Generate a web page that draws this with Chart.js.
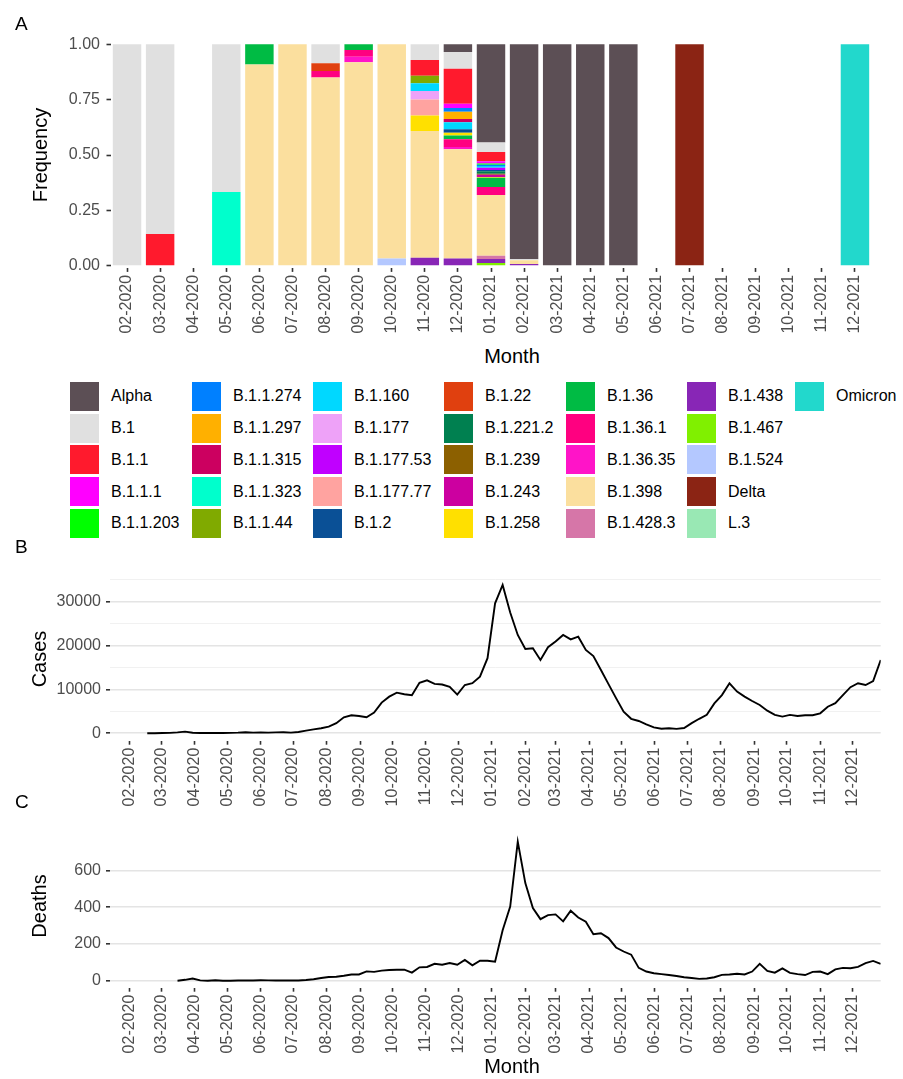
<!DOCTYPE html>
<html>
<head>
<meta charset="utf-8">
<script src="https://cdn.jsdelivr.net/npm/chart.js@4.4.1/dist/chart.umd.min.js"></script>
<style>
  body { margin: 0; background: #fff; font-family: "Liberation Sans", Arial, sans-serif; }
  #page { position: relative; width: 903px; height: 1079px; overflow: hidden; }
  .box { position: absolute; left: 0; }
  .tag { position: absolute; font-size: 19px; line-height: 1; color: #000; }
  .ttl { position: absolute; font-size: 20px; line-height: 1; color: #000; white-space: nowrap; transform: translate(-50%, -50%); }
  .ttl.rot { transform: translate(-50%, -50%) rotate(-90deg); }
  #legend { position: absolute; left: 70px; top: 380.6px; display: grid; grid-auto-flow: column;
            grid-template-rows: repeat(5, 31.7px); grid-template-columns: 122px 121px 131px 122px 121px 108px auto; }
  .item { display: flex; align-items: center; font-size: 16px; color: #000; white-space: nowrap; }
  .key { width: 29px; height: 29px; margin-right: 12px; flex: none; }
</style>
</head>
<body>
<div id="page">
  <div class="box" style="top:0;width:903px;height:340px"><canvas id="chartA" width="903" height="340"></canvas></div>
  <div class="box" style="top:560px;width:903px;height:260px"><canvas id="chartB" width="903" height="260"></canvas></div>
  <div class="box" style="top:820px;width:903px;height:259px"><canvas id="chartC" width="903" height="259"></canvas></div>

  <div class="tag" style="left:15px;top:14px">A</div>
  <div class="tag" style="left:15px;top:537px">B</div>
  <div class="tag" style="left:15px;top:792px">C</div>

  <div class="ttl rot" style="left:40px;top:155px">Frequency</div>
  <div class="ttl" style="left:512px;top:356px">Month</div>
  <div class="ttl rot" style="left:39px;top:659px">Cases</div>
  <div class="ttl rot" style="left:39px;top:906px">Deaths</div>
  <div class="ttl" style="left:512px;top:1066px">Month</div>

  <div id="legend"></div>
</div>

<script>
// months shown on the x axes
const months = ['02-2020', '03-2020', '04-2020', '05-2020', '06-2020', '07-2020', '08-2020', '09-2020',
                '10-2020', '11-2020', '12-2020', '01-2021', '02-2021', '03-2021', '04-2021', '05-2021',
                '06-2021', '07-2021', '08-2021', '09-2021', '10-2021', '11-2021', '12-2021'];

const lineages = ['Alpha', 'B.1', 'B.1.1', 'B.1.1.1', 'B.1.1.203', 'B.1.1.274', 'B.1.1.297', 'B.1.1.315',
                  'B.1.1.323', 'B.1.1.44', 'B.1.160', 'B.1.177', 'B.1.177.53', 'B.1.177.77', 'B.1.2',
                  'B.1.22', 'B.1.221.2', 'B.1.239', 'B.1.243', 'B.1.258', 'B.1.36', 'B.1.36.1',
                  'B.1.36.35', 'B.1.398', 'B.1.428.3', 'B.1.438', 'B.1.467', 'B.1.524', 'Delta', 'L.3', 'Omicron'];

const lineageColors = ['#5C4F55', '#E0E0E0', '#FF1A2D', '#FF00FF', '#00FF00', '#0080FF', '#FFB000', '#CC0060',
                       '#00FFCC', '#80AA00', '#00D8FF', '#EEA2F8', '#C000FF', '#FFA3A0', '#0A5096',
                       '#E0400F', '#008050', '#8C6000', '#CC00A0', '#FFE000', '#00BB44', '#FF0080',
                       '#FF14C8', '#FBDF9E', '#D676A8', '#8826B6', '#80F000', '#B4C8FF', '#8B2414', '#99E8B4', '#22D8CC'];

// frequency per lineage (rows, same order as lineages) and month (columns)
const freqRows = [
  /* Alpha      */ [0, 0, 0, 0, 0, 0, 0, 0, 0, 0, 0.035, 0.444, 0.971, 1, 1, 1, 0, 0, 0, 0, 0, 0, 0],
  /* B.1        */ [1, 0.857, 0, 0.667, 0, 0, 0.085, 0, 0, 0.071, 0.075, 0.042, 0.004, 0, 0, 0, 0, 0, 0, 0, 0, 0, 0],
  /* B.1.1      */ [0, 0.143, 0, 0, 0, 0, 0, 0, 0, 0.071, 0.158, 0.042, 0, 0, 0, 0, 0, 0, 0, 0, 0, 0, 0],
  /* B.1.1.1    */ [0, 0, 0, 0, 0, 0, 0, 0, 0, 0, 0.02, 0.01, 0, 0, 0, 0, 0, 0, 0, 0, 0, 0, 0],
  /* B.1.1.203  */ [0, 0, 0, 0, 0, 0, 0, 0, 0, 0, 0, 0.006, 0, 0, 0, 0, 0, 0, 0, 0, 0, 0, 0],
  /* B.1.1.274  */ [0, 0, 0, 0, 0, 0, 0, 0, 0, 0, 0.017, 0.006, 0, 0, 0, 0, 0, 0, 0, 0, 0, 0, 0],
  /* B.1.1.297  */ [0, 0, 0, 0, 0, 0, 0, 0, 0, 0, 0.032, 0, 0, 0, 0, 0, 0, 0, 0, 0, 0, 0, 0],
  /* B.1.1.315  */ [0, 0, 0, 0, 0, 0, 0, 0, 0, 0, 0.015, 0, 0, 0, 0, 0, 0, 0, 0, 0, 0, 0, 0],
  /* B.1.1.323  */ [0, 0, 0, 0.333, 0, 0, 0, 0, 0, 0, 0, 0, 0, 0, 0, 0, 0, 0, 0, 0, 0, 0, 0],
  /* B.1.1.44   */ [0, 0, 0, 0, 0, 0, 0, 0, 0, 0.034, 0, 0, 0, 0, 0, 0, 0, 0, 0, 0, 0, 0, 0],
  /* B.1.160    */ [0, 0, 0, 0, 0, 0, 0, 0, 0, 0.035, 0.032, 0.008, 0, 0, 0, 0, 0, 0, 0, 0, 0, 0, 0],
  /* B.1.177    */ [0, 0, 0, 0, 0, 0, 0, 0, 0, 0.038, 0, 0, 0, 0, 0, 0, 0, 0, 0, 0, 0, 0, 0],
  /* B.1.177.53 */ [0, 0, 0, 0, 0, 0, 0, 0, 0, 0, 0, 0.01, 0, 0, 0, 0, 0, 0, 0, 0, 0, 0, 0],
  /* B.1.177.77 */ [0, 0, 0, 0, 0, 0, 0, 0, 0, 0.073, 0, 0, 0, 0, 0, 0, 0, 0, 0, 0, 0, 0, 0],
  /* B.1.2      */ [0, 0, 0, 0, 0, 0, 0, 0, 0, 0, 0.015, 0.005, 0, 0, 0, 0, 0, 0, 0, 0, 0, 0, 0],
  /* B.1.22     */ [0, 0, 0, 0, 0, 0, 0.035, 0, 0, 0, 0, 0, 0, 0, 0, 0, 0, 0, 0, 0, 0, 0, 0],
  /* B.1.221.2  */ [0, 0, 0, 0, 0, 0, 0, 0, 0, 0, 0, 0.012, 0, 0, 0, 0, 0, 0, 0, 0, 0, 0, 0],
  /* B.1.239    */ [0, 0, 0, 0, 0, 0, 0, 0, 0, 0, 0, 0.004, 0, 0, 0, 0, 0, 0, 0, 0, 0, 0, 0],
  /* B.1.243    */ [0, 0, 0, 0, 0, 0, 0, 0, 0, 0, 0, 0.01, 0, 0, 0, 0, 0, 0, 0, 0, 0, 0, 0],
  /* B.1.258    */ [0, 0, 0, 0, 0, 0, 0, 0, 0, 0.07, 0.013, 0.004, 0, 0, 0, 0, 0, 0, 0, 0, 0, 0, 0],
  /* B.1.36     */ [0, 0, 0, 0, 0.091, 0, 0, 0.026, 0, 0, 0.017, 0.042, 0, 0, 0, 0, 0, 0, 0, 0, 0, 0, 0],
  /* B.1.36.1   */ [0, 0, 0, 0, 0, 0, 0.03, 0.03, 0, 0, 0.035, 0.036, 0, 0, 0, 0, 0, 0, 0, 0, 0, 0, 0],
  /* B.1.36.35  */ [0, 0, 0, 0, 0, 0, 0, 0.025, 0, 0, 0.01, 0, 0, 0, 0, 0, 0, 0, 0, 0, 0, 0, 0],
  /* B.1.398    */ [0, 0, 0, 0, 0.909, 1, 0.85, 0.919, 0.967, 0.572, 0.494, 0.274, 0.017, 0, 0, 0, 0, 0, 0, 0, 0, 0, 0],
  /* B.1.428.3  */ [0, 0, 0, 0, 0, 0, 0, 0, 0, 0, 0, 0.015, 0, 0, 0, 0, 0, 0, 0, 0, 0, 0, 0],
  /* B.1.438    */ [0, 0, 0, 0, 0, 0, 0, 0, 0, 0.036, 0.032, 0.018, 0.008, 0, 0, 0, 0, 0, 0, 0, 0, 0, 0],
  /* B.1.467    */ [0, 0, 0, 0, 0, 0, 0, 0, 0, 0, 0, 0.012, 0, 0, 0, 0, 0, 0, 0, 0, 0, 0, 0],
  /* B.1.524    */ [0, 0, 0, 0, 0, 0, 0, 0, 0.033, 0, 0, 0, 0, 0, 0, 0, 0, 0, 0, 0, 0, 0, 0],
  /* Delta      */ [0, 0, 0, 0, 0, 0, 0, 0, 0, 0, 0, 0, 0, 0, 0, 0, 0, 1, 0, 0, 0, 0, 0],
  /* L.3        */ [0, 0, 0, 0, 0, 0, 0, 0, 0, 0, 0, 0, 0, 0, 0, 0, 0, 0, 0, 0, 0, 0, 0],
  /* Omicron    */ [0, 0, 0, 0, 0, 0, 0, 0, 0, 0, 0, 0, 0, 0, 0, 0, 0, 0, 0, 0, 0, 0, 1]
];

const freqTicks = [0, 0.25, 0.5, 0.75, 1];

// weekly series, first week starting 2020-02-17
const firstWeek = Date.UTC(2020, 1, 17);
const cases = [0, 20, 50, 100, 200, 380, 120, 50, 50, 60, 80, 100, 150, 250, 150, 200, 150, 200, 250, 150,
               300, 600, 900, 1150, 1500, 2300, 3650, 4100, 3950, 3650, 4700, 7000, 8350, 9250, 8900, 8650,
               11500, 12050, 11250, 11100, 10600, 8800, 11000, 11400, 12900, 17100, 29600, 33800, 27500, 22400,
               19200, 19350, 16700, 19600, 20900, 22400, 21400, 22000, 19000, 17600, 14400, 11200, 8000, 4900,
               3300, 2800, 2050, 1350, 1050, 1150, 1000, 1200, 2300, 3300, 4200, 6800, 8700, 11400, 9500, 8350,
               7350, 6450, 5150, 4200, 3800, 4200, 3950, 4100, 4100, 4550, 6050, 6850, 8700, 10500, 11400, 11000,
               11900, 16700];
const deaths = [null, null, null, null, 0, 5, 12, 2, 0, 3, 0, 0, 1, 1, 1, 3, 2, 1, 1, 2,
                1, 4, 8, 15, 20, 22, 27, 34, 34, 51, 48, 55, 58, 60, 60, 44, 73, 75, 92, 87,
                96, 87, 113, 84, 109, 109, 103, 275, 403, 757, 531, 395, 335, 357, 361, 323, 381, 344, 321, 253,
                258, 232, 181, 159, 142, 70, 50, 41, 36, 31, 26, 19, 15, 10, 12, 19, 32, 34, 38, 34,
                50, 92, 53, 44, 67, 43, 36, 31, 48, 50, 36, 62, 70, 68, 75, 96, 108, 92];

const casesTicks = [0, 5000, 10000, 15000, 20000, 25000, 30000, 35000];
const deathsTicks = [0, 100, 200, 300, 400, 500, 600, 700];

// ---------- helpers ----------
const DAY = 86400000;
const origin = Date.UTC(2020, 1, 1);
const monthDays = months.map(m => {
  const [mm, yy] = m.split('-').map(Number);
  return (Date.UTC(yy, mm - 1, 1) - origin) / DAY;
});
const toPoints = arr => arr.map((v, i) => ({ x: (firstWeek - origin) / DAY + 7 * i, y: v }));

const FONT = { family: '"Liberation Sans", Arial, sans-serif', size: 16 };
const TICK_COLOR = '#4D4D4D';
const MARK_COLOR = '#333333';

// ---------- panel A: stacked bars ----------
const datasetsA = lineages.map((name, k) => ({
  label: name,
  data: freqRows[k],
  backgroundColor: lineageColors[k],
  borderWidth: 0,
  barPercentage: 0.86,
  categoryPercentage: 1
})).reverse(); // first lineage ends on top of the stack

new Chart(document.getElementById('chartA'), {
  type: 'bar',
  data: { labels: months, datasets: datasetsA },
  options: {
    responsive: false,
    animation: false,
    layout: { padding: { top: 42.1, right: 31.5, left: 0, bottom: 0 } },
    plugins: { legend: { display: false }, tooltip: { enabled: false } },
    scales: {
      x: {
        stacked: true,
        offset: true,
        afterFit: s => { s.height = 72.1; },
        border: { display: false },
        grid: { offset: false, drawOnChartArea: false, tickLength: 4, tickWidth: 1.6, tickColor: MARK_COLOR },
        ticks: { autoSkip: false, maxRotation: 90, minRotation: 90, padding: 3, color: TICK_COLOR, font: FONT }
      },
      y: {
        stacked: true,
        min: -0.01,
        max: 1.01,
        afterBuildTicks: s => { s.ticks = freqTicks.map(v => ({ value: v })); },
        afterFit: s => { s.width = 110.5; },
        border: { display: false },
        grid: { drawOnChartArea: false, tickLength: 4, tickWidth: 1.6, tickColor: MARK_COLOR },
        ticks: { padding: 6.5, color: TICK_COLOR, font: FONT, callback: v => Number(v).toFixed(2) }
      }
    }
  }
});

// ---------- panels B and C: weekly lines ----------
function lineChart(id, values, yTicks, majorStep, yMin, yMax, padTop, xHeight) {
  return new Chart(document.getElementById(id), {
    type: 'line',
    data: {
      datasets: [{
        data: toPoints(values),
        borderColor: '#000000',
        borderWidth: 1.9,
        pointRadius: 0,
        tension: 0,
        spanGaps: false
      }]
    },
    options: {
      responsive: false,
      animation: false,
      layout: { padding: { top: padTop, right: 22.3, left: 0, bottom: 0 } },
      plugins: { legend: { display: false }, tooltip: { enabled: false } },
      scales: {
        x: {
          type: 'linear',
          min: -18.5,
          max: 695,
          afterBuildTicks: s => { s.ticks = monthDays.map(v => ({ value: v })); },
          afterFit: s => { s.height = xHeight; },
          border: { display: false },
          grid: { drawOnChartArea: false, tickLength: 4, tickWidth: 1.6, tickColor: MARK_COLOR },
          ticks: { autoSkip: false, maxRotation: 90, minRotation: 90, padding: 3, color: TICK_COLOR, font: FONT,
                   callback: (v, i) => months[i] }
        },
        y: {
          type: 'linear',
          min: yMin,
          max: yMax,
          afterBuildTicks: s => { s.ticks = yTicks.map(v => ({ value: v })); },
          afterFit: s => { s.width = 110; },
          border: { display: false },
          grid: {
            color: c => (c.tick && c.tick.value % majorStep === 0) ? '#E4E4E4' : '#F1F1F1',
            lineWidth: c => (c.tick && c.tick.value % majorStep === 0) ? 1.6 : 1,
            tickLength: 4,
            tickWidth: 1.6,
            tickColor: c => (c.tick && c.tick.value % majorStep === 0) ? MARK_COLOR : 'rgba(0,0,0,0)'
          },
          ticks: { padding: 5, color: TICK_COLOR, font: FONT,
                   callback: v => (v % majorStep === 0 ? String(v) : '') }
        }
      }
    }
  });
}

lineChart('chartB', cases, casesTicks, 10000, -1690, 35490, 17.5, 79.3);
lineChart('chartC', deaths, deathsTicks, 200, -37.9, 795, 5.3, 91.3);

// ---------- legend ----------
const legendEl = document.getElementById('legend');
lineages.forEach((name, k) => {
  const item = document.createElement('div');
  item.className = 'item';
  const key = document.createElement('span');
  key.className = 'key';
  key.style.background = lineageColors[k];
  item.appendChild(key);
  item.appendChild(document.createTextNode(name));
  legendEl.appendChild(item);
});
</script>
</body>
</html>
